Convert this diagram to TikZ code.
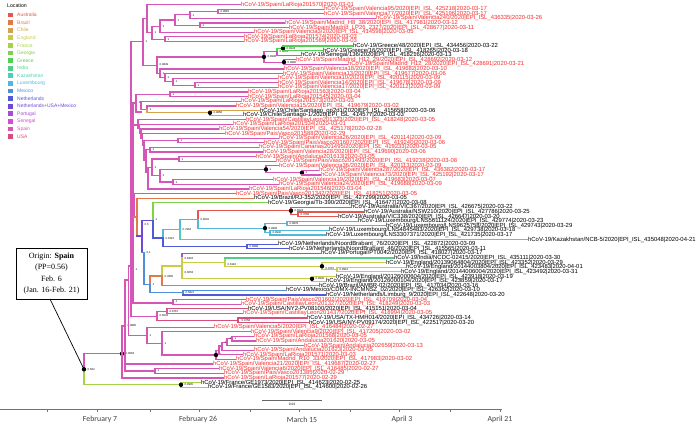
\documentclass[tikz,border=0pt]{standalone}
\usepackage{fontspec}
\setmainfont{Liberation Sans}
\newfontfamily\timesf{Liberation Serif}
\newfontfamily\calf{Carlito}
\definecolor{cAus}{HTML}{E2574F}
\definecolor{cBra}{HTML}{E07A4A}
\definecolor{cChi}{HTML}{D4A24C}
\definecolor{cEng}{HTML}{C8CC46}
\definecolor{cFra}{HTML}{A6D24A}
\definecolor{cGeo}{HTML}{7ED24A}
\definecolor{cGre}{HTML}{52D052}
\definecolor{cInd}{HTML}{4FD08A}
\definecolor{cKaz}{HTML}{4FCFB9}
\definecolor{cLux}{HTML}{50B8D8}
\definecolor{cMex}{HTML}{4F8ED8}
\definecolor{cNed}{HTML}{5059D8}
\definecolor{cNUM}{HTML}{6E48D6}
\definecolor{cPor}{HTML}{A04FD6}
\definecolor{cSen}{HTML}{CF4FCC}
\definecolor{cSpa}{HTML}{D656B8}
\definecolor{cUSA}{HTML}{D64F7A}
\definecolor{txtred}{HTML}{F43030}
\tikzset{
  br/.style={line width=1.2pt, line cap=rect},
  sp/.style={br, draw=cSpa},
  au/.style={br, draw=cAus}, bz/.style={br, draw=cBra}, ch/.style={br, draw=cChi},
  en/.style={br, draw=cEng}, fr/.style={br, draw=cFra}, ge/.style={br, draw=cGeo},
  gr/.style={br, draw=cGre}, ind/.style={br, draw=cInd}, kz/.style={br, draw=cKaz},
  lu/.style={br, draw=cLux}, mx/.style={br, draw=cMex}, nl/.style={br, draw=cNed},
  nu/.style={br, draw=cNUM}, prt/.style={br, draw=cPor}, sn/.style={br, draw=cSen},
  us/.style={br, draw=cUSA},
  lab/.style={font=\fontsize{5.9}{6}\selectfont, inner sep=0.6pt, anchor=west},
  pp/.style={font=\fontsize{2.8}{3}\selectfont, inner sep=0pt, anchor=west},
  leg/.style={font=\fontsize{5}{5}\selectfont, inner sep=0pt, anchor=west},
  ax/.style={font=\calf\fontsize{7.8}{8}\selectfont, text=black!75},
}
\newcommand\epi{EPI\_ISL\_}
\newcommand\Lf[5][sp]{\draw[#1] (#3,{ly(#2)}) -- (#4,{ly(#2)}) node[lab,text=txtred] (L#2) {hCoV-19/#5};}
\newcommand\Lk[5][sp]{\draw[#1] (#3,{ly(#2)}) -- (#4,{ly(#2)}) node[lab,text=black] (L#2) {hCoV-19/#5};}
\newcommand\Vl[4][sp]{\draw[#1] (#2,{#3}) -- (#2,{#4});}
\newcommand\Hl[4][sp]{\draw[#1] (#2,{#4}) -- (#3,{#4});}
\newcommand\Pp[3]{\node[pp] at ({#1+1.5},{#2+2}) {#3};}
\newcommand\Dt[2]{\fill (#1,{#2}) circle (2.2pt);}
\begin{document}
\begin{tikzpicture}[x=1pt,y=-1pt, declare function={ly(\i)=4.5+4.61*\i;}]
\useasboundingbox (0,0) rectangle (696,426);
% ---------- legend
\node[leg, font=\fontsize{5.2}{5}\selectfont] (legt) at (7,6) {Location};
\foreach \c/\t [count=\i from 0] in {cAus/Australia,cBra/Brazil,cChi/Chile,cEng/England,cFra/France,cGeo/Georgia,cGre/Greece,cInd/India,cKaz/Kazakhstan,cLux/Luxembourg,cMex/Mexico,cNed/Netherlands,cNUM/Netherlands+USA+Mexico,cPor/Portugal,cSen/Senegal,cSpa/Spain,cUSA/USA}{
  \fill[\c] (8.3,{15+7.6*\i-2.4}) rectangle (13.1,{15+7.6*\i+2.4});
  \node[leg, text=\c] (leg\i) at (17,{15+7.6*\i}) {\t};
}
% ---------- root and France
\Vl{84}{353.8}{369.3}
\Vl[fr]{84}{369.3}{384.8}
\Hl{84}{122}{353.8}
\Hl[fr]{84}{181}{384.8}
\Vl[fr]{181}{ly(82)}{ly(83)}
\Lk[fr]{82}{181}{200}{France/GE1973/2020|\epi414623|2020-02-25}
\Lk[fr]{83}{181}{207}{France/GE1583/2020|\epi414600|2020-02-26}
\coordinate (root) at (84,369.3);
\Dt{84}{369.3}\Dt{122}{353.8}\Dt{181}{384.8}
\Pp{86}{367.3}{0.564}\Pp{124}{351.8}{0.9563}\Pp{183}{382.8}{0.9905}
% ---------- A, B, X
\Vl{122}{326}{ly(81)}
\Lf{81}{122}{223}{Spain/LaRioja201577|2020-02-29}
\Hl{122}{125}{326}
\Vl{125}{280}{371}
\Pp{126}{324}{0.9885}
\Hl{125}{128.7}{280}
\Lf{78}{125}{212}{Spain/Valencia21/2020|\epi419687|2020-02-27}
\Hl{125}{155}{371}
\Vl{155}{ly(79)}{ly(80)}
\Lf{79}{155}{218}{Spain/Valencia6/2020|\epi416485|2020-02-27}
\Lf{80}{155}{223}{Spain/PaisVasco201385|2020-02-29}
\Pp{156}{369}{1}
\Vl{128.7}{266}{335.3}
\Pp{129.5}{284}{1}
\Hl{128.7}{131}{266}
\Hl{128.7}{147}{335.3}
% P block
\Vl{147}{ly(70)}{343.4}
\Lf{70}{147}{213}{Spain/Valencia5/2020|\epi416484|2020-02-27}
\Hl{147}{162}{343.4}\Pp{148}{333.3}{1}
\Vl{162}{ly(71)}{355}
\Lf{71}{162}{250}{Spain/Valencia9/2020|\epi417205|2020-03-02}
\Hl{162}{216}{355}\Pp{163}{341.4}{1}
\Vl{216}{350.5}{ly(77)}
\Lf{77}{216}{235}{Spain/Madrid\_R10\_33/2020|\epi417983|2020-03-02}
\Hl{216}{219}{350.5}\Dt{216}{355}\Pp{218}{353}{1}
\Vl{219}{346}{ly(76)}
\Lf{76}{219}{242}{Spain/LaRioja201571|2020-03-03}
\Hl{219}{222}{346}\Pp{220}{344}{1}
\Vl{222}{342.2}{ly(75)}
\Lf{75}{222}{253}{Spain/Andalucia201623|2020-03-05}
\Hl{222}{227}{342.2}\Pp{223}{340.2}{1}
\Vl{227}{338.7}{ly(74)}
\Lf{74}{227}{303}{Spain/Andalucia202659|2020-03-13}
\Hl{227}{232}{338.7}\Pp{228}{336.7}{1}
\Vl{232}{ly(72)}{ly(73)}
\Lf{72}{232}{253}{Spain/LaRioja201568|2020-03-05}
\Lf{73}{232}{255}{Spain/Andalucia201620|2020-03-05}
\Pp{233}{336.7}{1}
% ---------- W and N133 spine
\Vl{131}{41.8}{316.7}
\Hl{131}{143}{41.8}
\Hl{131}{133}{150}
\Hl{131}{157}{316.7}
\Pp{132}{205}{1}
\Vl{133}{103}{303}
\Pp{134}{268}{1}
\Hl{133}{136}{103}
\Hl{133}{138}{125}
\Hl{133}{134}{205.25}
\Hl{133}{173}{303}
% Pk block
\Vl{173}{ly(64)}{ly(65)}\Pp{174}{300}{1}
\Lf{64}{173}{245}{Spain/PaisVasco201602/2020|\epi419709|2020-03-04}
\Lf{65}{173}{240}{Spain/CastillayLeon201327/2020|\epi418249|2020-03-03}
\Vl{157}{311.1}{320.3}\Pp{158}{314}{0.6033}
\Hl{157}{167}{311.1}
\Hl[us]{157}{238}{320.3}
\Vl{167}{ly(66)}{ly(67)}\Pp{168}{309.5}{0.9767}
\Lk[us]{66}{167}{247}{USA/NY2-PV08100/2020|\epi415151|2020-03-04}
\Lf{67}{167}{242}{Spain/CastillayLeon201437/2020|\epi418994|2020-03-05}
\Vl[us]{238}{ly(68)}{ly(69)}\Pp{240}{318.5}{0.9758}
\Lk[us]{68}{238}{306}{USA/TX-HMH014/2020|\epi434726|2020-03-14}
\Lk[us]{69}{238}{308}{USA/NY-PV09174/2020|\epi422517|2020-03-20}
% ---------- Mid block
\Vl{134}{ly(41)}{217}\Pp{135}{203.5}{1}
\Lf{41}{134}{235}{Spain/PaisVasco201342/2020|\epi418251|2020-03-05}
\Hl[bz]{134}{137}{217}
\Vl[bz]{137}{ly(42)}{236}
\Lk[bz]{42}{137}{253}{Brazil/RJ-352/2020|\epi427299|2020-03-05}
\Hl[nu]{137}{142}{236}
\Vl[nu]{142}{220.4}{252.3}\Pp{143}{223}{0,5}
\Hl[nu]{142}{153}{220.4}
\Hl[mx]{142}{144}{252.3}
\Vl[mx]{144}{252.3}{284.2}\Pp{145}{251}{0,1}
\Hl[mx]{144}{150}{284.2}
\Vl[ge]{153}{ly(43)}{220.4}
\Vl[nl]{153}{220.4}{238}\Pp{154}{218}{1}
\Lk[ge]{43}{153}{267}{Georgia/Tb-390/2020|\epi416477|2020-03-08}
\Hl[nl]{153}{163}{238}
\Vl[lu]{163}{229.5}{238}
\Vl[nl]{163}{238}{246.5}\Pp{164}{237}{0.6115}
\Hl[lu]{163}{180}{229.5}
\Hl[nl]{163}{247}{246.5}
\Vl[nl]{247}{ly(52)}{ly(53)}\Pp{248}{245}{0.9888}
\Lk[nl]{52}{247}{277}{Netherlands/NoordBrabant\_76/2020|\epi422872|2020-03-09}
\Lk[nl]{53}{247}{288}{Netherlands/NoordBrabant\_46/2020|\epi415565|2020-03-11}
\Vl[lu]{180}{219.5}{229.5}
\Vl[kz]{180}{229.5}{ly(51)}\Pp{181}{228}{0.7918}
\Hl[lu]{180}{198}{219.5}
\Lk[kz]{51}{180}{527}{Kazakhstan/NCB-5/2020|\epi435048|2020-04-21}
\Vl[au]{198}{210.8}{219.5}
\Vl[lu]{198}{219.5}{228.1}\Pp{199}{218}{0.8002}
\Hl[au]{198}{291}{210.8}
\Hl[lu]{198}{265}{228.1}
\Vl[au]{291}{ly(44)}{214.2}\Dt{291}{210.8}\Pp{293}{209}{0.6624}
\Lk[au]{44}{291}{350}{Australia/VIC367/2020|\epi426675|2020-03-22}
\Hl[au]{291}{298}{214.2}
\Vl[au]{298}{ly(45)}{ly(46)}\Pp{299}{212.5}{0.7058}
\Lk[au]{45}{298}{363}{Australia/NSW210/2020|\epi427786|2020-03-25}
\Lk[au]{46}{298}{337}{Australia/VIC338/2020|\epi426647|2020-03-20}
\Vl[lu]{265}{223.5}{232.7}\Dt{265}{228.1}\Pp{267}{226.5}{0.9908}
\Hl[lu]{265}{287}{223.5}
\Hl[lu]{265}{270}{232.7}
\Vl[lu]{287}{ly(47)}{ly(48)}\Pp{288}{221.8}{0.9878}
\Lk[lu]{47}{287}{357}{Luxembourg/LNS5611124/2020|\epi429774|2020-03-23}
\Lk[lu]{48}{287}{385}{Luxembourg/LNS9625758/2020|\epi429743|2020-03-29}
\Vl[lu]{270}{ly(49)}{ly(50)}\Pp{271}{231}{0.9940}
\Lk[lu]{49}{270}{328}{Luxembourg/LNS4845483/2020|\epi429738|2020-03-18}
\Lk[lu]{50}{270}{325}{Luxembourg/LNS3307371/2020|\epi421735|2020-03-17}
% P0
\Vl[bz]{150}{275.9}{284.2}
\Vl[mx]{150}{284.2}{292.6}\Pp{151}{282.5}{1}
\Hl[bz]{150}{162}{275.9}
\Hl[mx]{150}{183}{292.6}
\Vl[mx]{183}{ly(62)}{ly(63)}\Pp{184}{291}{0.5821}
\Lk[mx]{62}{183}{285}{Mexico/CDMX-INCMNSZ\_02/2020|\epi426362|2020-03-10}
\Lk[nl]{63}{183}{325}{Netherlands/Limburg\_9/2020|\epi422648|2020-03-20}
\Vl[en]{162}{266}{275.9}
\Vl[bz]{162}{275.9}{ly(61)}\Pp{163}{274.5}{0.3355}
\Hl[en]{162}{182}{266}
\Lk[bz]{61}{162}{318}{Brazil/AMBR-02/2020|\epi417034|2020-03-16}
\Vl[prt]{182}{ly(54)}{258}
\Vl[en]{182}{258}{278.8}\Pp{183}{256.5}{0.6304}\Pp{183}{270.5}{0.6053}
\Lk[prt]{54}{182}{320}{Portugal/PT0042/2020|\epi418027|2020-03-17}
\Hl[en]{182}{225}{262.1}
\Hl[en]{182}{312}{278.8}
\Vl[en]{225}{ly(55)}{266.2}\Pp{226}{262.5}{0.6118}
\Lk[ind]{55}{225}{393}{India/NCDC-02415/2020|\epi435111|2020-03-30}
\Hl[en]{225}{322}{266.2}
\Vl[en]{322}{ly(56)}{269.6}\Dt{322}{266.2}\Pp{324}{267}{0.9767}
\Lk[en]{56}{322}{385}{England/20139064804/2020|\epi423352|2020-03-29}
\Hl[en]{322}{337}{269.6}
\Vl[en]{337}{ly(57)}{ly(58)}\Pp{338}{268}{0.8912}
\Lk[en]{57}{337}{405}{England/20144003804/2020|\epi423483|2020-04-01}
\Lk[en]{58}{337}{400}{England/20144006004/2020|\epi423492|2020-03-31}
\Vl[en]{312}{ly(59)}{ly(60)}\Dt{312}{278.8}\Pp{314}{277}{0.9940}
\Lk[en]{59}{312}{335}{England/20126000604/2020|\epi423918|2020-03-19}
\Lk[en]{60}{312}{325}{England/20126000104/2020|\epi423859|2020-03-17}
% ---------- top
\Vl{143}{18.55}{65.1}\Pp{144}{40}{1}
\Hl{143}{147}{18.55}
\Hl{143}{157}{65.1}
\Vl{147}{ly(0)}{32.6}
\Lf{0}{147}{240}{Spain/LaRioja201570|2020-03-01}
\Hl{147}{152}{32.6}
\Vl{152}{26.1}{39.1}\Pp{153}{31}{1}
\Hl{152}{160}{26.1}
\Hl{152}{165}{39.1}
\Vl{165}{ly(7)}{ly(8)}\Pp{166}{37.3}{1}
\Lf{7}{165}{243}{Spain/LaRioja201574|2020-03-03}
\Lf{8}{165}{243}{Spain/LaRioja201569|2020-03-03}
\Vl{160}{20.05}{ly(6)}\Pp{161}{24.2}{1}
\Hl{160}{175}{20.05}
\Lf{6}{160}{253}{Spain/Valencia3/2020|\epi414598|2020-03-05}
\Vl{175}{14.85}{25.25}\Pp{176}{18.2}{1}
\Hl{175}{190}{14.85}
\Hl{175}{200}{25.25}
\Vl{200}{ly(4)}{ly(5)}\Pp{201}{23.5}{1}
\Lf{4}{200}{284}{Spain/Madrid\_H8\_38/2020|\epi417981|2020-03-12}
\Lf{5}{200}{288}{Spain/Madrid\_LP26\_2327/2020|\epi428677|2020-03-11}
\Vl{190}{11.4}{ly(3)}\Pp{191}{13.2}{1}
\Hl{190}{218}{11.4}
\Lf{3}{190}{375}{Spain/Valencia240/2020|\epi436335|2020-03-26}
\Vl{218}{ly(1)}{ly(2)}\Pp{219}{9.7}{0.9881}
\Lf{1}{218}{323}{Spain/Valencia95/2020|\epi425218|2020-03-17}
\Lf{2}{218}{323}{Spain/Valencia77/2020|\epi425196|2020-03-17}
% Greece / Madrid block
\Vl{157}{56.9}{73.35}\Pp{158}{63}{0.9849}
\Hl{157}{264}{56.9}
\Hl{157}{160}{73.35}
\Vl{264}{51.75}{62.1}\Dt{264}{56.9}\Pp{266}{55}{0.9938}
\Hl{264}{277}{51.75}
\Hl{264}{284}{62.1}
\Vl[gr]{277}{48.3}{51.75}
\Vl[sn]{277}{51.75}{ly(11)}\Pp{278}{50}{0.8803}
\Hl[gr]{277}{283}{48.3}
\Lk[sn]{11}{277}{300}{Senegal/136/2020|\epi418216|2020-03-13}
\Vl[gr]{283}{ly(9)}{ly(10)}\Dt{283}{48.3}\Pp{285}{46.5}{0.9943}
\Lk[gr]{9}{283}{352}{Greece/48/2020|\epi434456|2020-03-22}
\Lk[gr]{10}{283}{322}{Greece/16/2020|\epi418265|2020-03-18}
\Vl{284}{ly(12)}{ly(13)}\Dt{284}{62.1}\Pp{286}{60.5}{0.9985}
\Lf{12}{284}{295}{Spain/Madrid\_H12\_29/2020|\epi428692|2020-03-12}
\Lf{13}{284}{347}{Spain/Madrid\_H12\_28/2020|\epi428691|2020-03-21}
\Vl{160}{ly(14)}{77.7}\Pp{161}{71.5}{1}
\Lf{14}{160}{283}{Spain/Valencia18/2020|\epi419682|2020-03-10}
\Hl{160}{165}{77.7}
\Vl{165}{ly(15)}{81.75}\Pp{166}{76}{1}
\Lf{15}{165}{282}{Spain/Valencia13/2020|\epi419677|2020-03-06}
\Hl{165}{173}{81.75}
\Vl{173}{ly(16)}{85.2}\Pp{174}{80}{1}
\Lf{16}{173}{277}{Spain/Valencia10/2020|\epi420115|2020-03-09}
\Hl{173}{195}{85.2}
\Vl{195}{ly(17)}{ly(18)}\Pp{196}{83.5}{1}
\Lf{17}{195}{277}{Spain/Valencia14/2020|\epi419678|2020-03-09}
\Lf{18}{195}{277}{Spain/Valencia17/2020|\epi420112|2020-03-09}
% middle upper
\Vl{136}{94.4}{112}\Pp{137}{101}{1}
\Hl{136}{170}{94.4}
\Hl{136}{141}{112}
\Vl{170}{ly(19)}{ly(20)}\Pp{171}{92.7}{1}
\Lf{19}{170}{247}{Spain/LaRioja201563|2020-03-04}
\Lf{20}{170}{247}{Spain/LaRioja201545|2020-03-04}
\Vl{141}{ly(21)}{109.35}
\Lf{21}{141}{240}{Spain/LaRioja201573|2020-03-03}
\Hl{141}{147}{109.35}
\Vl{147}{ly(22)}{109.35}
\Vl[ch]{147}{109.35}{112.8}\Pp{148}{107.5}{1}
\Lf{22}{147}{235}{Spain/Valencia15/2020|\epi419679|2020-03-02}
\Hl[ch]{147}{210}{112.8}
\Vl[ch]{210}{ly(23)}{ly(24)}\Dt{210}{112.8}\Pp{212}{111}{0.9858}
\Lk[ch]{23}{210}{259}{Chile/Santiago\_op2d1/2020|\epi415658|2020-03-06}
\Lk[ch]{24}{210}{242}{Chile/Santiago-1/2020|\epi414577|2020-03-03}
% ladder 25-40
\Vl{138}{ly(25)}{128}
\Lf{25}{138}{245}{Spain/CastillayLeon201323/2020|\epi418248|2020-03-05}
\Hl{138}{139.5}{128}
\Vl{139.5}{ly(26)}{133}
\Lf{26}{139.5}{232}{Spain/LaRioja201534|2020-03-01}
\Hl{139.5}{141}{133}
\Vl{141}{ly(27)}{138}
\Lf{27}{141}{218}{Spain/Valencia54/2020|\epi425178|2020-02-28}
\Hl{141}{142.5}{138}
\Vl{142.5}{ly(28)}{145}
\Lf{28}{142.5}{224}{Spain/PaisVasco201588|2020-02-29}
\Hl{142.5}{144}{145}
\Vl{144}{140.5}{160}
\Hl{144}{178}{140.5}
\Hl{144}{146}{160}
\Vl{178}{ly(29)}{ly(30)}\Pp{179}{139}{1}
\Lf{29}{178}{278}{Spain/Valencia26/2020|\epi420114|2020-03-09}
\Lf{30}{178}{263}{Spain/PaisVasco201607/2020|\epi419240|2020-03-06}
\Vl{146}{149.7}{172}
\Hl{146}{150}{149.7}
\Hl{146}{148}{172}
\Vl{150}{ly(31)}{ly(32)}\Pp{151}{148}{1}
\Lf{31}{150}{258}{Spain/Canarias201495/2020|\epi419233|2020-03-05}
\Lf{32}{150}{262}{Spain/Valencia28/2020|\epi419690|2020-03-06}
\Vl{148}{167.3}{ly(40)}
\Lf{40}{148}{248}{Spain/LaRioja201546|2020-03-04}
\Hl{148}{152}{167.3}
\Vl{152}{158.9}{175.7}\Pp{153}{166}{1}
\Hl{152}{179}{158.9}
\Hl{152}{160}{175.7}
\Vl{179}{ly(33)}{ly(34)}\Pp{180}{157.2}{1}
\Lf{33}{179}{255}{Spain/Andalucia201613|2020-03-05}
\Lf{34}{179}{275}{Spain/PaisVasco201493/2020|\epi419238|2020-03-08}
\Vl{160}{169.35}{182}\Pp{161}{174}{1}
\Hl{160}{266}{169.35}
\Hl{160}{173}{182}
\Vl{266}{ly(35)}{172.8}\Dt{266}{169.35}\Pp{268}{167.5}{1}
\Lf{35}{266}{278}{Spain/Valencia36/2020|\epi420113|2020-03-09}
\Hl{266}{302}{172.8}
\Vl{302}{ly(36)}{ly(37)}\Dt{302}{172.8}\Pp{304}{171}{1}
\Lf{36}{302}{318}{Spain/Valencia287/2020|\epi436382|2020-03-17}
\Lf{37}{302}{320}{Spain/Valencia73/2020|\epi425192|2020-03-17}
\Vl{173}{ly(38)}{ly(39)}\Pp{174}{180.3}{1}
\Lf{38}{173}{272}{Spain/Valencia19/2020|\epi419683|2020-03-07}
\Lf{39}{173}{278}{Spain/Valencia24/2020|\epi419688|2020-03-09}
% ---------- origin box
\node[draw=black, line width=0.6pt, fill=white, minimum width=71pt, minimum height=51pt, inner sep=0pt, align=center, font=\timesf\fontsize{8}{11.3}\selectfont] (orig) at (51.5,273.5) {Origin: \textbf{Spain}\\(PP=0.56)\\Feb. 6\\(Jan. 16-Feb. 21)};
\draw[line width=0.7pt] (50,299) -- (root);
% ---------- axis and scale
\draw[black!55, line width=0.6pt] (0,409.5) coordinate (axl) -- (502,409.5) coordinate (axr);
\foreach \t in {47,97,150,199,250,299,350,399,450,500}{\draw[black!55, line width=0.5pt] (\t,409.5) -- (\t,411.5);}
\node[ax] (d1) at (100,419.5) {February 7};
\node[ax] (d2) at (198,419.5) {February 26};
\node[ax] (d3) at (302,419.5) {March 15};
\node[ax] (d4) at (402,419.5) {April 3};
\node[ax] (d5) at (500,419.5) {April 21};
\draw[black!60, line width=0.6pt] (262,400) coordinate (sb1) -- (322,400) coordinate (sb2);
\node[font=\fontsize{3.2}{3.5}\selectfont] (sbl) at (292,404.5) {0.03};
\end{tikzpicture}
\end{document}
